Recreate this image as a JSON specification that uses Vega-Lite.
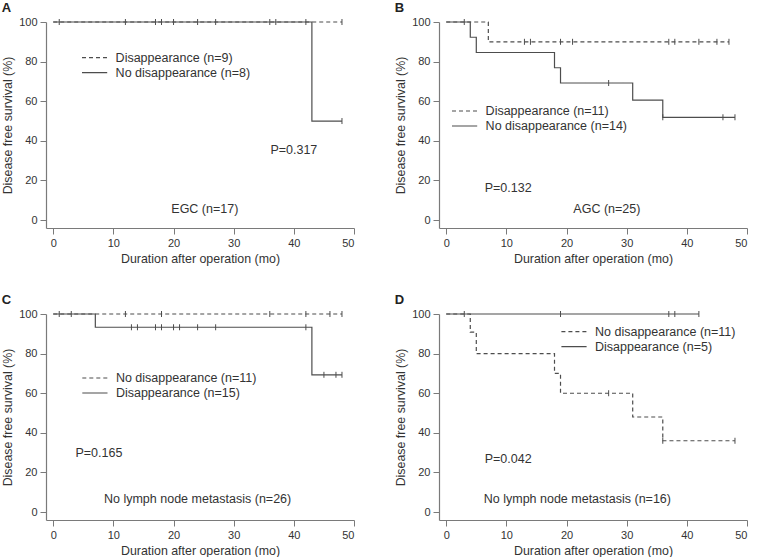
{
  "$schema": "https://vega.github.io/schema/vega-lite/v6.json",
  "padding": {"left": 1, "top": 2, "right": 0, "bottom": 0},
  "background": "white",
  "datasets": {
    "km": [
      {"p": "A", "g": "Disappearance (n=9)", "t": 0, "s": 100, "c": 0},
      {"p": "A", "g": "Disappearance (n=9)", "t": 17, "s": 100, "c": 1},
      {"p": "A", "g": "Disappearance (n=9)", "t": 20, "s": 100, "c": 1},
      {"p": "A", "g": "Disappearance (n=9)", "t": 27, "s": 100, "c": 1},
      {"p": "A", "g": "Disappearance (n=9)", "t": 37, "s": 100, "c": 1},
      {"p": "A", "g": "Disappearance (n=9)", "t": 48, "s": 100, "c": 1},
      {"p": "A", "g": "No disappearance (n=8)", "t": 0, "s": 100, "c": 0},
      {"p": "A", "g": "No disappearance (n=8)", "t": 1, "s": 100, "c": 1},
      {"p": "A", "g": "No disappearance (n=8)", "t": 12, "s": 100, "c": 1},
      {"p": "A", "g": "No disappearance (n=8)", "t": 18, "s": 100, "c": 1},
      {"p": "A", "g": "No disappearance (n=8)", "t": 24, "s": 100, "c": 1},
      {"p": "A", "g": "No disappearance (n=8)", "t": 36, "s": 100, "c": 1},
      {"p": "A", "g": "No disappearance (n=8)", "t": 42, "s": 100, "c": 1},
      {"p": "A", "g": "No disappearance (n=8)", "t": 43, "s": 50, "c": 0},
      {"p": "A", "g": "No disappearance (n=8)", "t": 48, "s": 50, "c": 1},

      {"p": "B", "g": "Disappearance (n=11)", "t": 0, "s": 100, "c": 0},
      {"p": "B", "g": "Disappearance (n=11)", "t": 3, "s": 100, "c": 1},
      {"p": "B", "g": "Disappearance (n=11)", "t": 7, "s": 90, "c": 0},
      {"p": "B", "g": "Disappearance (n=11)", "t": 13, "s": 90, "c": 1},
      {"p": "B", "g": "Disappearance (n=11)", "t": 14, "s": 90, "c": 1},
      {"p": "B", "g": "Disappearance (n=11)", "t": 19, "s": 90, "c": 1},
      {"p": "B", "g": "Disappearance (n=11)", "t": 21, "s": 90, "c": 1},
      {"p": "B", "g": "Disappearance (n=11)", "t": 37, "s": 90, "c": 1},
      {"p": "B", "g": "Disappearance (n=11)", "t": 38, "s": 90, "c": 1},
      {"p": "B", "g": "Disappearance (n=11)", "t": 42, "s": 90, "c": 1},
      {"p": "B", "g": "Disappearance (n=11)", "t": 45, "s": 90, "c": 1},
      {"p": "B", "g": "Disappearance (n=11)", "t": 47, "s": 90, "c": 1},
      {"p": "B", "g": "No disappearance (n=14)", "t": 0, "s": 100, "c": 0},
      {"p": "B", "g": "No disappearance (n=14)", "t": 4, "s": 92.3, "c": 0},
      {"p": "B", "g": "No disappearance (n=14)", "t": 5, "s": 84.6, "c": 0},
      {"p": "B", "g": "No disappearance (n=14)", "t": 18, "s": 76.9, "c": 0},
      {"p": "B", "g": "No disappearance (n=14)", "t": 19, "s": 69.2, "c": 0},
      {"p": "B", "g": "No disappearance (n=14)", "t": 27, "s": 69.2, "c": 1},
      {"p": "B", "g": "No disappearance (n=14)", "t": 31, "s": 60.6, "c": 0},
      {"p": "B", "g": "No disappearance (n=14)", "t": 36, "s": 51.9, "c": 1},
      {"p": "B", "g": "No disappearance (n=14)", "t": 46, "s": 51.9, "c": 1},
      {"p": "B", "g": "No disappearance (n=14)", "t": 48, "s": 51.9, "c": 1},

      {"p": "C", "g": "No disappearance (n=11)", "t": 0, "s": 100, "c": 0},
      {"p": "C", "g": "No disappearance (n=11)", "t": 1, "s": 100, "c": 1},
      {"p": "C", "g": "No disappearance (n=11)", "t": 3, "s": 100, "c": 1},
      {"p": "C", "g": "No disappearance (n=11)", "t": 12, "s": 100, "c": 1},
      {"p": "C", "g": "No disappearance (n=11)", "t": 18, "s": 100, "c": 1},
      {"p": "C", "g": "No disappearance (n=11)", "t": 36, "s": 100, "c": 1},
      {"p": "C", "g": "No disappearance (n=11)", "t": 42, "s": 100, "c": 1},
      {"p": "C", "g": "No disappearance (n=11)", "t": 46, "s": 100, "c": 1},
      {"p": "C", "g": "No disappearance (n=11)", "t": 48, "s": 100, "c": 1},
      {"p": "C", "g": "Disappearance (n=15)", "t": 0, "s": 100, "c": 0},
      {"p": "C", "g": "Disappearance (n=15)", "t": 7, "s": 93.3, "c": 0},
      {"p": "C", "g": "Disappearance (n=15)", "t": 13, "s": 93.3, "c": 1},
      {"p": "C", "g": "Disappearance (n=15)", "t": 14, "s": 93.3, "c": 1},
      {"p": "C", "g": "Disappearance (n=15)", "t": 17, "s": 93.3, "c": 1},
      {"p": "C", "g": "Disappearance (n=15)", "t": 18, "s": 93.3, "c": 1},
      {"p": "C", "g": "Disappearance (n=15)", "t": 20, "s": 93.3, "c": 1},
      {"p": "C", "g": "Disappearance (n=15)", "t": 21, "s": 93.3, "c": 1},
      {"p": "C", "g": "Disappearance (n=15)", "t": 24, "s": 93.3, "c": 1},
      {"p": "C", "g": "Disappearance (n=15)", "t": 27, "s": 93.3, "c": 1},
      {"p": "C", "g": "Disappearance (n=15)", "t": 42, "s": 93.3, "c": 1},
      {"p": "C", "g": "Disappearance (n=15)", "t": 43, "s": 69.3, "c": 0},
      {"p": "C", "g": "Disappearance (n=15)", "t": 45, "s": 69.3, "c": 1},
      {"p": "C", "g": "Disappearance (n=15)", "t": 47, "s": 69.3, "c": 1},
      {"p": "C", "g": "Disappearance (n=15)", "t": 48, "s": 69.3, "c": 1},

      {"p": "D", "g": "No disappearance (n=11)", "t": 0, "s": 100, "c": 0},
      {"p": "D", "g": "No disappearance (n=11)", "t": 4, "s": 90.9, "c": 0},
      {"p": "D", "g": "No disappearance (n=11)", "t": 5, "s": 80, "c": 0},
      {"p": "D", "g": "No disappearance (n=11)", "t": 18, "s": 70, "c": 0},
      {"p": "D", "g": "No disappearance (n=11)", "t": 19, "s": 60, "c": 0},
      {"p": "D", "g": "No disappearance (n=11)", "t": 27, "s": 60, "c": 1},
      {"p": "D", "g": "No disappearance (n=11)", "t": 31, "s": 48, "c": 0},
      {"p": "D", "g": "No disappearance (n=11)", "t": 36, "s": 36, "c": 1},
      {"p": "D", "g": "No disappearance (n=11)", "t": 48, "s": 36, "c": 1},
      {"p": "D", "g": "Disappearance (n=5)", "t": 0, "s": 100, "c": 0},
      {"p": "D", "g": "Disappearance (n=5)", "t": 3, "s": 100, "c": 1},
      {"p": "D", "g": "Disappearance (n=5)", "t": 19, "s": 100, "c": 1},
      {"p": "D", "g": "Disappearance (n=5)", "t": 37, "s": 100, "c": 1},
      {"p": "D", "g": "Disappearance (n=5)", "t": 38, "s": 100, "c": 1},
      {"p": "D", "g": "Disappearance (n=5)", "t": 42, "s": 100, "c": 1}
    ],
    "notes": [
      {"p": "A", "txt": "P=0.317", "kind": "p"},
      {"p": "A", "txt": "EGC (n=17)", "kind": "cap"},
      {"p": "B", "txt": "P=0.132", "kind": "p"},
      {"p": "B", "txt": "AGC (n=25)", "kind": "cap"},
      {"p": "C", "txt": "P=0.165", "kind": "p"},
      {"p": "C", "txt": "No lymph node metastasis (n=26)", "kind": "cap"},
      {"p": "D", "txt": "P=0.042", "kind": "p"},
      {"p": "D", "txt": "No lymph node metastasis (n=16)", "kind": "cap"}
    ]
  },
  "config": {
    "font": "Liberation Sans",
    "view": {"stroke": null},
    "axis": {
      "grid": false,
      "domainColor": "#7a7a7a",
      "domainWidth": 1.2,
      "tickColor": "#7a7a7a",
      "tickSize": 6,
      "labelFontSize": 11,
      "labelColor": "#333333",
      "labelPadding": 3,
      "titleFontSize": 12.4,
      "titleFontWeight": "normal",
      "titleColor": "#333333"
    },
    "legend": {
      "labelFontSize": 12.5,
      "labelColor": "#333333",
      "rowPadding": -0.5
    },
    "title": {"anchor": "start", "fontSize": 13, "fontWeight": "bold", "frame": "bounds", "offset": 1, "color": "#222222"},
    "text": {"font": "Liberation Sans", "fontSize": 12.5, "color": "#333333"}
  },
  "columns": 2,
  "spacing": {"row": 86, "column": 85},
  "bounds": "flush",
  "resolve": {"scale": {"strokeDash": "independent"}, "legend": {"strokeDash": "independent"}},
  "concat": [
    {
      "title": "A",
      "width": 308, "height": 206,
      "layer": [
        {
          "data": {"name": "km"},
          "transform": [{"filter": "datum.p === 'A'"}],
          "mark": {"type": "line", "interpolate": "step-after", "color": "#4d4d4d", "strokeWidth": 1.2},
          "encoding": {
            "x": {"field": "t", "type": "quantitative", "scale": {"domain": [-1.2, 50], "nice": false, "zero": false}, "axis": {"values": [0, 10, 20, 30, 40, 50], "title": "Duration after operation (mo)"}},
            "y": {"field": "s", "type": "quantitative", "scale": {"domain": [-4, 100], "nice": false, "zero": false}, "axis": {"values": [0, 20, 40, 60, 80, 100], "title": "Disease free survival (%)"}},
            "strokeDash": {"field": "g", "type": "nominal", "scale": {"domain": ["Disappearance (n=9)", "No disappearance (n=8)"], "range": [[4, 3], [1, 0]]},
              "legend": {"orient": "none", "legendX": 40.6, "legendY": 27.7, "title": null, "symbolType": "M-1.8,0L1.8,0", "symbolSize": 196, "symbolStrokeWidth": 1.2, "symbolStrokeColor": "#4d4d4d", "labelOffset": 13}}
          }
        },
        {
          "data": {"name": "km"},
          "transform": [{"filter": "datum.p === 'A' && datum.c === 1"}],
          "mark": {"type": "point", "shape": "M0,-1L0,1", "size": 36, "strokeWidth": 1, "color": "#4d4d4d", "opacity": 1, "filled": false},
          "encoding": {"x": {"field": "t", "type": "quantitative"}, "y": {"field": "s", "type": "quantitative"}}
        },
        {"data": {"name": "notes"}, "transform": [{"filter": "datum.p === 'A' && datum.kind === 'p'"}], "mark": {"type": "text", "align": "left", "baseline": "middle"}, "encoding": {"x": {"datum": 36.1}, "y": {"datum": 35.2}, "text": {"field": "txt"}}},
        {"data": {"name": "notes"}, "transform": [{"filter": "datum.p === 'A' && datum.kind === 'cap'"}], "mark": {"type": "text", "align": "center", "baseline": "middle"}, "encoding": {"x": {"datum": 25.2}, "y": {"datum": 5.4}, "text": {"field": "txt"}}}
      ]
    },
    {
      "title": "B",
      "width": 308, "height": 206,
      "layer": [
        {
          "data": {"name": "km"},
          "transform": [{"filter": "datum.p === 'B'"}],
          "mark": {"type": "line", "interpolate": "step-after", "color": "#4d4d4d", "strokeWidth": 1.2},
          "encoding": {
            "x": {"field": "t", "type": "quantitative", "scale": {"domain": [-1.2, 50], "nice": false, "zero": false}, "axis": {"values": [0, 10, 20, 30, 40, 50], "title": "Duration after operation (mo)"}},
            "y": {"field": "s", "type": "quantitative", "scale": {"domain": [-4, 100], "nice": false, "zero": false}, "axis": {"values": [0, 20, 40, 60, 80, 100], "title": "Disease free survival (%)"}},
            "strokeDash": {"field": "g", "type": "nominal", "scale": {"domain": ["Disappearance (n=11)", "No disappearance (n=14)"], "range": [[4, 3], [1, 0]]},
              "legend": {"orient": "none", "legendX": 17.6, "legendY": 81, "title": null, "symbolType": "M-1.8,0L1.8,0", "symbolSize": 196, "symbolStrokeWidth": 1.2, "symbolStrokeColor": "#4d4d4d", "labelOffset": 13}}
          }
        },
        {
          "data": {"name": "km"},
          "transform": [{"filter": "datum.p === 'B' && datum.c === 1"}],
          "mark": {"type": "point", "shape": "M0,-1L0,1", "size": 36, "strokeWidth": 1, "color": "#4d4d4d", "opacity": 1, "filled": false},
          "encoding": {"x": {"field": "t", "type": "quantitative"}, "y": {"field": "s", "type": "quantitative"}}
        },
        {"data": {"name": "notes"}, "transform": [{"filter": "datum.p === 'B' && datum.kind === 'p'"}], "mark": {"type": "text", "align": "left", "baseline": "middle"}, "encoding": {"x": {"datum": 6.4}, "y": {"datum": 16}, "text": {"field": "txt"}}},
        {"data": {"name": "notes"}, "transform": [{"filter": "datum.p === 'B' && datum.kind === 'cap'"}], "mark": {"type": "text", "align": "center", "baseline": "middle"}, "encoding": {"x": {"datum": 26.7}, "y": {"datum": 5.4}, "text": {"field": "txt"}}}
      ]
    },
    {
      "title": "C",
      "width": 308, "height": 206,
      "layer": [
        {
          "data": {"name": "km"},
          "transform": [{"filter": "datum.p === 'C'"}],
          "mark": {"type": "line", "interpolate": "step-after", "color": "#4d4d4d", "strokeWidth": 1.2},
          "encoding": {
            "x": {"field": "t", "type": "quantitative", "scale": {"domain": [-1.2, 50], "nice": false, "zero": false}, "axis": {"values": [0, 10, 20, 30, 40, 50], "title": "Duration after operation (mo)"}},
            "y": {"field": "s", "type": "quantitative", "scale": {"domain": [-4, 100], "nice": false, "zero": false}, "axis": {"values": [0, 20, 40, 60, 80, 100], "title": "Disease free survival (%)"}},
            "strokeDash": {"field": "g", "type": "nominal", "scale": {"domain": ["No disappearance (n=11)", "Disappearance (n=15)"], "range": [[4, 3], [1, 0]]},
              "legend": {"orient": "none", "legendX": 40.9, "legendY": 56, "title": null, "symbolType": "M-1.8,0L1.8,0", "symbolSize": 196, "symbolStrokeWidth": 1.2, "symbolStrokeColor": "#4d4d4d", "labelOffset": 13}}
          }
        },
        {
          "data": {"name": "km"},
          "transform": [{"filter": "datum.p === 'C' && datum.c === 1"}],
          "mark": {"type": "point", "shape": "M0,-1L0,1", "size": 36, "strokeWidth": 1, "color": "#4d4d4d", "opacity": 1, "filled": false},
          "encoding": {"x": {"field": "t", "type": "quantitative"}, "y": {"field": "s", "type": "quantitative"}}
        },
        {"data": {"name": "notes"}, "transform": [{"filter": "datum.p === 'C' && datum.kind === 'p'"}], "mark": {"type": "text", "align": "left", "baseline": "middle"}, "encoding": {"x": {"datum": 3.7}, "y": {"datum": 30}, "text": {"field": "txt"}}},
        {"data": {"name": "notes"}, "transform": [{"filter": "datum.p === 'C' && datum.kind === 'cap'"}], "mark": {"type": "text", "align": "center", "baseline": "middle"}, "encoding": {"x": {"datum": 24}, "y": {"datum": 6.4}, "text": {"field": "txt"}}}
      ]
    },
    {
      "title": "D",
      "width": 308, "height": 206,
      "layer": [
        {
          "data": {"name": "km"},
          "transform": [{"filter": "datum.p === 'D'"}],
          "mark": {"type": "line", "interpolate": "step-after", "color": "#4d4d4d", "strokeWidth": 1.2},
          "encoding": {
            "x": {"field": "t", "type": "quantitative", "scale": {"domain": [-1.2, 50], "nice": false, "zero": false}, "axis": {"values": [0, 10, 20, 30, 40, 50], "title": "Duration after operation (mo)"}},
            "y": {"field": "s", "type": "quantitative", "scale": {"domain": [-4, 100], "nice": false, "zero": false}, "axis": {"values": [0, 20, 40, 60, 80, 100], "title": "Disease free survival (%)"}},
            "strokeDash": {"field": "g", "type": "nominal", "scale": {"domain": ["No disappearance (n=11)", "Disappearance (n=5)"], "range": [[4, 3], [1, 0]]},
              "legend": {"orient": "none", "legendX": 127, "legendY": 9.7, "title": null, "symbolType": "M-1.8,0L1.8,0", "symbolSize": 196, "symbolStrokeWidth": 1.2, "symbolStrokeColor": "#4d4d4d", "labelOffset": 13}}
          }
        },
        {
          "data": {"name": "km"},
          "transform": [{"filter": "datum.p === 'D' && datum.c === 1"}],
          "mark": {"type": "point", "shape": "M0,-1L0,1", "size": 36, "strokeWidth": 1, "color": "#4d4d4d", "opacity": 1, "filled": false},
          "encoding": {"x": {"field": "t", "type": "quantitative"}, "y": {"field": "s", "type": "quantitative"}}
        },
        {"data": {"name": "notes"}, "transform": [{"filter": "datum.p === 'D' && datum.kind === 'p'"}], "mark": {"type": "text", "align": "left", "baseline": "middle"}, "encoding": {"x": {"datum": 6.4}, "y": {"datum": 27}, "text": {"field": "txt"}}},
        {"data": {"name": "notes"}, "transform": [{"filter": "datum.p === 'D' && datum.kind === 'cap'"}], "mark": {"type": "text", "align": "center", "baseline": "middle"}, "encoding": {"x": {"datum": 21.8}, "y": {"datum": 6.4}, "text": {"field": "txt"}}}
      ]
    }
  ]
}
